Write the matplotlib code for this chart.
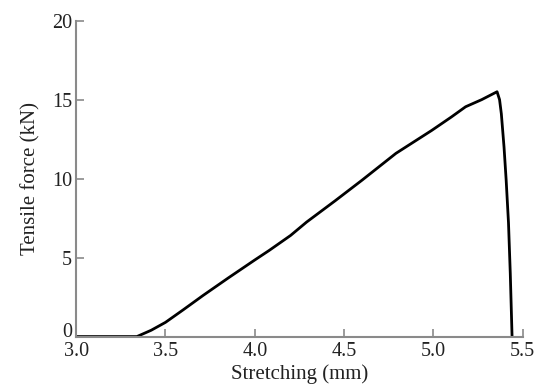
import matplotlib.pyplot as plt
import matplotlib.transforms as mtransforms

# stretching (mm) vs tensile force (kN)
stretch = [3.0, 3.2, 3.34, 3.42, 3.5, 3.6, 3.71, 3.85, 4.0, 4.08, 4.2, 4.29,
           4.45, 4.6, 4.79, 4.99, 5.1, 5.18, 5.27, 5.356, 5.37, 5.38,
           5.395, 5.407, 5.42, 5.43, 5.44]
force = [0.0, 0.0, 0.0, 0.4, 0.9, 1.7, 2.6, 3.7, 4.85, 5.45, 6.4, 7.25,
         8.6, 9.9, 11.6, 13.05, 13.9, 14.55, 15.0, 15.5, 15.0, 14.1,
         12.0, 9.9, 7.2, 4.0, 0.0]

plt.rcParams['font.family'] = ['Liberation Serif', 'DejaVu Serif']

fig = plt.figure(figsize=(5.44, 3.9), dpi=100)
ax = fig.add_axes([0.14, 0.137, 0.821, 0.81])

ax.plot(stretch, force, color='black', linewidth=2.0)

ax.set_xlim(3.0, 5.5)
ax.set_ylim(0, 20)
ax.set_xticks([3.0, 3.5, 4.0, 4.5, 5.0, 5.5])
ax.set_yticks([0, 5, 10, 15, 20])
ax.set_xticklabels(['3.0', '3.5', '4.0', '4.5', '5.0', '5.5'])

for side in ['top', 'right']:
    ax.spines[side].set_visible(False)
for side in ['left', 'bottom']:
    ax.spines[side].set_color('#8a8a8a')
    ax.spines[side].set_linewidth(1.5)

ax.tick_params(direction='in', length=6, width=1.2, color='#8a8a8a',
               labelsize=14.5, labelcolor='#222222')
ax.tick_params(axis='x', pad=4)
ax.tick_params(axis='y', pad=3)

# nudge the "0" label up so it does not run into "3.0"
lbl0 = ax.get_yticklabels()[0]
lbl0.set_transform(lbl0.get_transform() +
                   mtransforms.ScaledTranslation(0, 5 / 72, fig.dpi_scale_trans))

ax.set_xlabel('Stretching (mm)', fontsize=15, color='#222222', labelpad=2)
ax.set_ylabel('Tensile force (kN)', fontsize=15, color='#222222', labelpad=8)

fig.savefig('out.png', dpi=100)
